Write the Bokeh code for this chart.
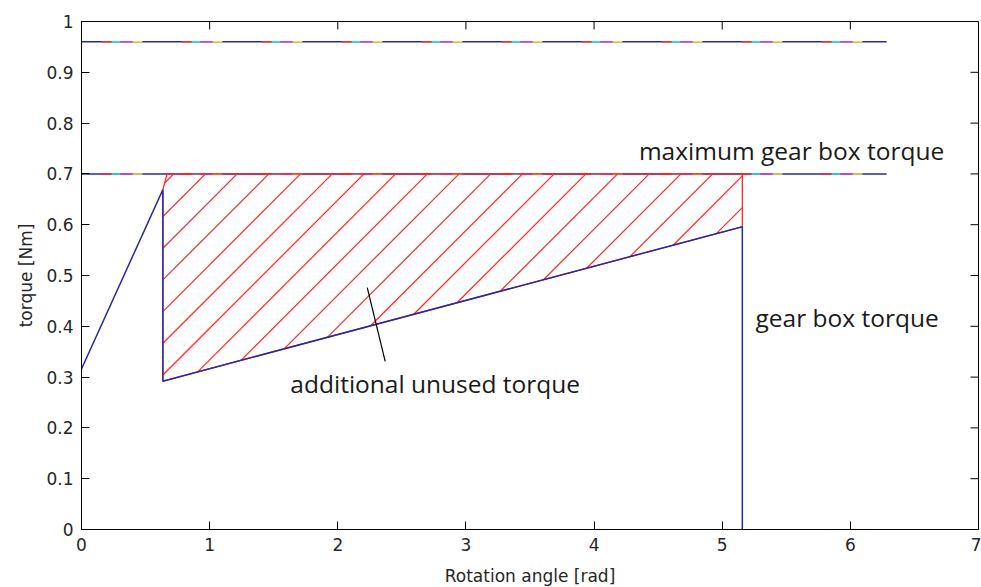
from bokeh.plotting import figure
from bokeh.models import FixedTicker, Label, Range1d
from bokeh.embed import file_html
from bokeh.resources import INLINE

# ---------------- data ----------------
limit_levels = [0.96, 0.70]
limit_x = [0.0, 6.283]

torque_x = [0.0, 0.635, 0.635, 5.157, 5.157]
torque_y = [0.316, 0.669, 0.292, 0.596, 0.0]

unused_x = [0.635, 0.635, 0.668, 5.157, 5.157]
unused_y = [0.292, 0.669, 0.700, 0.700, 0.596]

pointer_x = [2.23, 2.37]
pointer_y = [0.476, 0.331]

x_ticks = [0, 1, 2, 3, 4, 5, 6, 7]
y_ticks = [0, 0.1, 0.2, 0.3, 0.4, 0.5, 0.6, 0.7, 0.8, 0.9, 1]
y_tick_labels = ["0", "0.1", "0.2", "0.3", "0.4", "0.5", "0.6", "0.7", "0.8", "0.9", "1"]

note_texts = ["maximum gear box torque", "gear box torque", "additional unused torque"]
note_x = [4.35, 5.26, 1.63]
note_y = [0.746, 0.417, 0.287]

# ---------------- layout / style constants ----------------
X0, X1, Y0, Y1 = 0, 7, 0, 1
FW, FH = 897, 508
TICK_LEN = 8
HATCH_SPACING_PX = 31.7
HATCH_PHASE_X = 0.72   # where one hatch line meets the top edge

p = figure(frame_width=FW, frame_height=FH,
           x_range=Range1d(X0, X1), y_range=Range1d(Y0, Y1),
           output_backend="svg", toolbar_location=None,
           min_border_left=81, min_border_top=21,
           min_border_right=3, min_border_bottom=58)
p.xgrid.visible = False
p.ygrid.visible = False
p.outline_line_color = "black"
p.outline_line_width = 1
p.background_fill_color = "white"
p.border_fill_color = "white"

TICK_FONT = "DejaVu Sans"
TICK_COLOR = "#262626"

def style_axis(ax, ticks):
    ax.ticker = FixedTicker(ticks=ticks)
    ax.major_tick_in = TICK_LEN
    ax.major_tick_out = 0
    ax.minor_tick_in = 0
    ax.minor_tick_out = 0
    ax.axis_line_color = "black"
    ax.major_tick_line_color = "black"
    ax.major_label_text_font = TICK_FONT
    ax.major_label_text_font_size = "17px"
    ax.major_label_text_color = TICK_COLOR
    ax.axis_label_text_font = TICK_FONT
    ax.axis_label_text_font_size = "17px"
    ax.axis_label_text_font_style = "normal"
    ax.axis_label_text_color = TICK_COLOR

xa = p.xaxis[0]
ya = p.yaxis[0]
style_axis(xa, x_ticks)
style_axis(ya, y_ticks)
xa.axis_label = "Rotation angle [rad]"
ya.axis_label = "torque [Nm]"
xa.major_label_standoff = 8
ya.major_label_standoff = 8
xa.axis_label_standoff = 12
ya.axis_label_standoff = 7
ya.major_label_overrides = {t: s for t, s in zip(y_ticks, y_tick_labels)}

# inward ticks on top and right edges (MATLAB box style)
dy_tick = TICK_LEN / FH * (Y1 - Y0)
dx_tick = TICK_LEN / FW * (X1 - X0)
p.segment(x0=x_ticks, x1=x_ticks, y0=[Y1] * len(x_ticks), y1=[Y1 - dy_tick] * len(x_ticks),
          line_color="black", line_width=1)
p.segment(x0=[X1] * len(y_ticks), x1=[X1 - dx_tick] * len(y_ticks), y0=y_ticks, y1=y_ticks,
          line_color="black", line_width=1)

# multicoloured limit lines (overlapping dashed lines)
overlay = [("#ff2a2a", "10 70", 60), ("#30e0f0", "9 71", 50),
           ("#e040e0", "12 68", 41), ("#f0e040", "10 70", 29)]
for lvl in limit_levels:
    ly = [lvl for _ in limit_x]
    p.line(limit_x, ly, line_color="#2a2a9c", line_width=1.5)
    for col, dash, off in overlay:
        p.line(limit_x, ly, line_color=col, line_width=1.5,
               line_dash=dash, line_dash_offset=off)

# 45-degree red hatch clipped to the unused-torque polygon
slope = (FW / (X1 - X0)) / (FH / (Y1 - Y0))      # data dy/dx for 45 deg on screen
step = HATCH_SPACING_PX / (FW / (X1 - X0))
top = max(unused_y)
n = len(unused_x)
kvals = [unused_x[i] + (top - unused_y[i]) / slope for i in range(n)]
k = HATCH_PHASE_X
while k - step > min(kvals):
    k -= step
hx0, hy0, hx1, hy1 = [], [], [], []
while k < max(kvals):
    pts = []
    for i in range(n):
        xa1, ya1 = unused_x[i], unused_y[i]
        xa2, ya2 = unused_x[(i + 1) % n], unused_y[(i + 1) % n]
        f1 = ya1 - (top + (xa1 - k) * slope)
        f2 = ya2 - (top + (xa2 - k) * slope)
        if f1 == f2:
            continue
        if f1 * f2 <= 0:
            t = f1 / (f1 - f2)
            pts.append((xa1 + t * (xa2 - xa1), ya1 + t * (ya2 - ya1)))
    if len(pts) >= 2:
        pts.sort()
        hx0.append(pts[0][0]); hy0.append(pts[0][1])
        hx1.append(pts[-1][0]); hy1.append(pts[-1][1])
    k += step
p.segment(x0=hx0, y0=hy0, x1=hx1, y1=hy1, line_color="#ff2a2a", line_width=1.25)

p.patch(unused_x, unused_y, fill_color=None, line_color="#ff2020", line_width=1.25)

# gear box torque curve
p.line(torque_x, torque_y, line_color="#2a2a9c", line_width=1.5)

# pointer
p.line(pointer_x, pointer_y, line_color="black", line_width=1.2)

for t, x, y in zip(note_texts, note_x, note_y):
    p.add_layout(Label(x=x, y=y, text=t, text_font="Open Sans",
                       text_font_size="24.5px", text_color="#1a1a1a",
                       text_baseline="alphabetic", text_align="left"))

open("out.html", "w").write(file_html(p, INLINE))
